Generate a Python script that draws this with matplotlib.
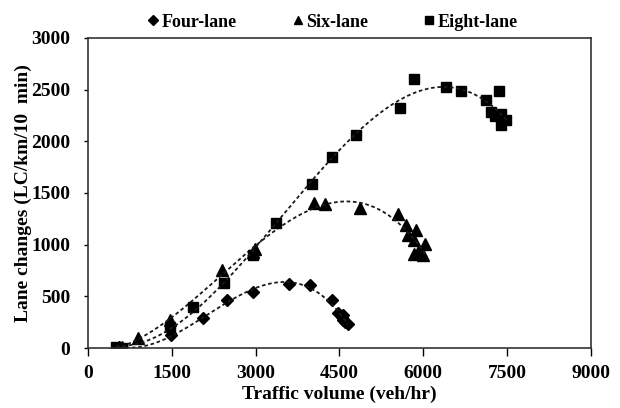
import numpy as np
import matplotlib
matplotlib.use('Agg')
import matplotlib.pyplot as plt

# (veh/hr, LC/km/10 min)
four_x = [560, 1490, 2060, 2480, 2960, 3590, 3970, 4370, 4480, 4540, 4570, 4600, 4650, 4560]
four_y = [10, 125, 286, 463, 543, 617, 607, 463, 340, 300, 270, 250, 230, 320]

six_x = [600, 890, 1460, 2390, 2950, 2990, 4040, 4250, 4870, 5540, 5690, 5870, 5720, 5840, 6030, 5900, 5990, 5840]
six_y = [10, 93, 270, 752, 930, 961, 1401, 1389, 1357, 1299, 1186, 1138, 1090, 1041, 1009, 929, 897, 913]

eight_x = [500, 600, 1460, 1880, 2440, 2950, 3370, 4000, 4360, 4790, 5590, 5830, 6400, 6670, 7130, 7360,
           7220, 7390, 7280, 7490, 7390]
eight_y = [10, 5, 206, 398, 633, 897, 1212, 1588, 1845, 2064, 2321, 2607, 2527, 2488, 2401, 2488,
           2288, 2263, 2247, 2205, 2157]

labels = ['Four-lane', 'Six-lane', 'Eight-lane']

plt.rcParams['font.family'] = ['Liberation Serif', 'DejaVu Serif']
plt.rcParams['font.weight'] = 'bold'

fig = plt.figure(figsize=(6.2, 4.08), dpi=100)
ax = fig.add_axes([0.142, 0.147, 0.811, 0.760])

series = [(four_x, four_y, 'D', 6.5), (six_x, six_y, '^', 8), (eight_x, eight_y, 's', 7)]
for (xs, ys, mk, ms), lab in zip(series, labels):
    ax.plot(xs, ys, linestyle='none', marker=mk, markersize=ms, color='black', label=lab)
    # cubic trendline like the excel one
    coef = np.polyfit(xs, ys, 3)
    xx = np.linspace(min(xs), max(xs), 200)
    ax.plot(xx, np.polyval(coef, xx), linestyle=(0, (2, 1.5)), color='#1a1a1a', linewidth=1.3)

ax.set_xlim(0, 9000)
ax.set_ylim(0, 3000)
ax.set_xticks(np.arange(0, 9001, 1500))
ax.set_yticks(np.arange(0, 3001, 500))
ax.tick_params(axis='x', direction='out', length=6, labelsize=14, width=1, pad=6)
ax.tick_params(axis='y', direction='out', length=3, labelsize=14, width=1, pad=10)
for lbl in ax.get_xticklabels() + ax.get_yticklabels():
    lbl.set_fontweight('bold')
for s in ax.spines.values():
    s.set_color('#333333')
    s.set_linewidth(1.2)

ax.set_xlabel('Traffic volume (veh/hr)', fontsize=14, fontweight='bold', labelpad=3)
ax.set_ylabel('Lane changes (LC/km/10  min)', fontsize=14, fontweight='bold', labelpad=-1)

fig.legend(*ax.get_legend_handles_labels(), loc='center', bbox_to_anchor=(0.535, 0.946), ncol=3,
           frameon=False, prop={'size': 13, 'weight': 'bold'}, handletextpad=0.05,
           columnspacing=3.0, handlelength=0.8, markerscale=0.8)

fig.savefig('out.png', dpi=100)
